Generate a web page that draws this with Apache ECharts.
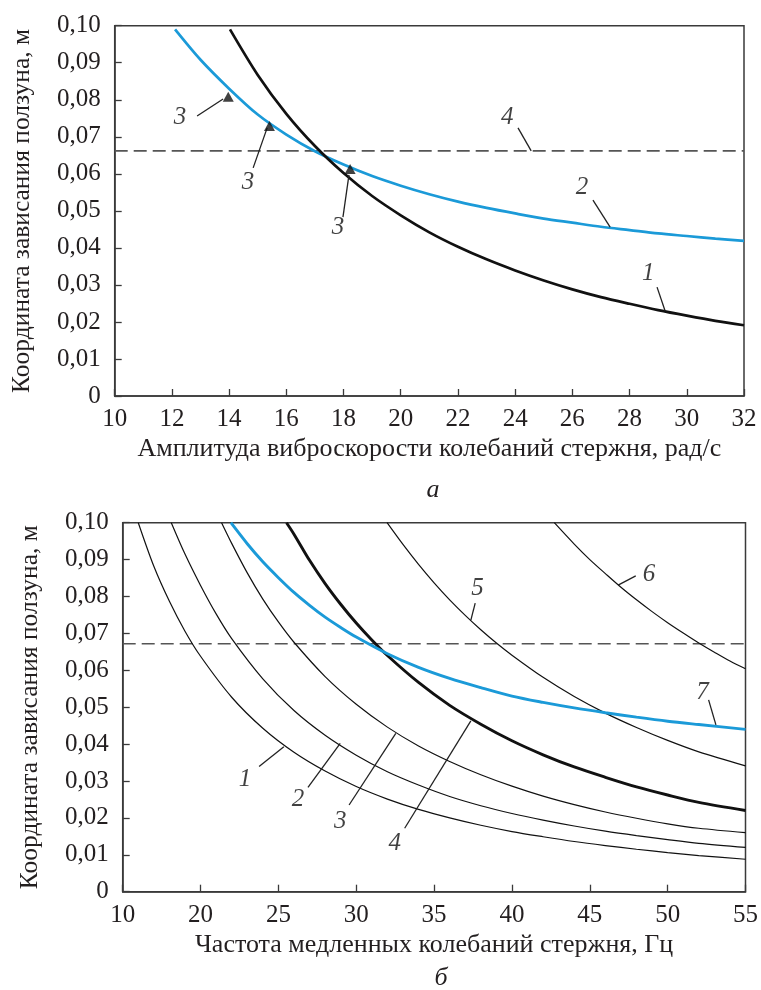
<!DOCTYPE html>
<html>
<head>
<meta charset="utf-8">
<script src="https://cdn.jsdelivr.net/npm/echarts@6/dist/echarts.min.js"></script>
<style>
html,body{margin:0;padding:0;background:#fff;}
#main{width:761px;height:990px;}
</style>
</head>
<body>
<div id="main"></div>
<script>
// ---------- Chart (а) ----------
var aXTicks = [10, 12, 14, 16, 18, 20, 22, 24, 26, 28, 30, 32];
var a1X = [14.03, 15, 16, 17, 18, 19, 20, 21, 22, 23, 24, 25, 26, 27, 28, 29, 30, 31, 32];
var a1Y = [0.0990, 0.0867, 0.0762, 0.0675, 0.0602, 0.0540, 0.0488, 0.0442, 0.0403, 0.0369, 0.0339, 0.0312, 0.0288, 0.0267, 0.0249, 0.0232, 0.0217, 0.0203, 0.0191];
var a2X = [12.11, 13, 14, 15, 16, 17, 18, 19, 20, 21, 22, 23, 24, 25, 26, 27, 28, 29, 30, 31, 32];
var a2Y = [0.0990, 0.0908, 0.0830, 0.0760, 0.0706, 0.0661, 0.0625, 0.0594, 0.0568, 0.0545, 0.0525, 0.0508, 0.0493, 0.0479, 0.0468, 0.0457, 0.0448, 0.0439, 0.0432, 0.0425, 0.0419];
var a3X = [13.97, 15.41, 18.23];
var a3Y = [0.0808, 0.0729, 0.0613];
var a4Level = 0.0662;
var aLabelText = ['3', '3', '3', '4', '2', '1'];
var aLabelX = [12.28, 14.66, 17.81, 23.72, 26.34, 28.65];
var aLabelY = [0.0751, 0.0578, 0.0454, 0.0753, 0.0562, 0.0332];
var aLeadFrom = [[12.88, 0.0756], [14.84, 0.0616], [17.98, 0.0483], [24.10, 0.0724], [26.72, 0.0529], [28.96, 0.0294]];
var aLeadTo = [[13.79, 0.0802], [15.33, 0.0724], [18.19, 0.0597], [24.56, 0.0662], [27.32, 0.0456], [29.24, 0.0230]];

// ---------- Chart (б) ----------
var bXTicks = [15, 20, 25, 30, 35, 40, 45, 50, 55];
var bXTickText = ['10', '20', '25', '30', '35', '40', '45', '50', '55'];
var b1X = [16, 17, 18, 19, 20, 22, 24, 26, 28, 30, 32, 34, 36, 38, 40, 42, 44, 46, 48, 50, 52, 55];
var b1Y = [0.1000, 0.0882, 0.0787, 0.0706, 0.0638, 0.0527, 0.0443, 0.0378, 0.0327, 0.0285, 0.0251, 0.0223, 0.0200, 0.0180, 0.0163, 0.0149, 0.0136, 0.0125, 0.0115, 0.0106, 0.0098, 0.0088];
var b2X = [18.12, 19, 20, 21, 22, 24, 26, 28, 30, 32, 34, 36, 38, 40, 42, 44, 46, 48, 50, 52, 55];
var b2Y = [0.1000, 0.0915, 0.0830, 0.0753, 0.0686, 0.0577, 0.0491, 0.0424, 0.0370, 0.0325, 0.0289, 0.0258, 0.0233, 0.0212, 0.0194, 0.0178, 0.0164, 0.0152, 0.0141, 0.0131, 0.0120];
var b3X = [21.35, 22, 23, 24, 25, 26, 28, 30, 32, 34, 36, 38, 40, 42, 44, 46, 48, 50, 52, 55];
var b3Y = [0.1000, 0.0944, 0.0864, 0.0793, 0.0731, 0.0676, 0.0583, 0.0508, 0.0446, 0.0395, 0.0353, 0.0317, 0.0286, 0.0259, 0.0236, 0.0216, 0.0199, 0.0184, 0.0172, 0.0160];
var b4X = [25.52, 26, 27, 28, 29, 30, 31, 32, 34, 36, 38, 40, 42, 44, 46, 48, 50, 52, 55];
var b4Y = [0.1000, 0.0969, 0.0898, 0.0835, 0.0779, 0.0728, 0.0682, 0.0640, 0.0567, 0.0505, 0.0454, 0.0409, 0.0371, 0.0338, 0.0310, 0.0284, 0.0262, 0.0242, 0.0220];
var b5X = [31.98, 33, 34, 35, 36, 37, 38, 39, 40, 42, 44, 46, 48, 50, 52, 55];
var b5Y = [0.1000, 0.0941, 0.0887, 0.0837, 0.0791, 0.0749, 0.0710, 0.0674, 0.0641, 0.0581, 0.0529, 0.0484, 0.0445, 0.0410, 0.0379, 0.0341];
var b6X = [42.72, 44, 45, 46, 47, 48, 49, 50, 51, 52, 53, 54, 55];
var b6Y = [0.1000, 0.0942, 0.0900, 0.0862, 0.0825, 0.0791, 0.0759, 0.0729, 0.0701, 0.0674, 0.0649, 0.0625, 0.0604];
var b7X = [21.95, 23, 24, 25, 26, 27, 28, 29, 30, 32, 34, 36, 38, 40, 42, 44, 46, 48, 50, 52, 55];
var b7Y = [0.1000, 0.0943, 0.0894, 0.0851, 0.0811, 0.0776, 0.0744, 0.0716, 0.0690, 0.0645, 0.0608, 0.0578, 0.0553, 0.0530, 0.0513, 0.0498, 0.0485, 0.0473, 0.0462, 0.0453, 0.0440];
var bDashLevel = 0.0672;
var bLabelText = ['1', '2', '3', '4', '5', '6', '7'];
var bLabelX = [22.86, 26.26, 28.97, 32.47, 37.79, 48.8, 52.24];
var bLabelY = [0.0305, 0.0249, 0.0190, 0.0131, 0.0822, 0.0860, 0.0540];
var bLeadFrom = [[23.76, 0.0339], [26.9, 0.0283], [29.54, 0.0235], [33.11, 0.0172], [37.64, 0.0782], [47.95, 0.0856], [52.63, 0.0520]];
var bLeadTo = [[25.35, 0.0393], [28.97, 0.0402], [32.54, 0.0429], [37.36, 0.0463], [37.36, 0.0736], [46.82, 0.0831], [53.1, 0.0452]];

var FONT = 'Liberation Serif';
var TXT = '#231f20';
var BLUE = '#1b9ad8';
var AX = '#3a3a3a';

function zip(xs, ys) { return xs.map(function (x, i) { return [x, ys[i]]; }); }
function yFmt(v) {
  var r = Math.round(v * 100) / 100;
  return r === 0 ? '0' : r.toFixed(2).replace('.', ',');
}

function makeX(gi, min, max, interval, fmt, name, nameGap) {
  return {
    type: 'value', gridIndex: gi, min: min, max: max, interval: interval,
    axisLine: { show: true, lineStyle: { color: AX, width: 1.5 } },
    axisTick: { show: true, inside: true, length: 7, lineStyle: { color: AX, width: 1.3 } },
    splitLine: { show: false },
    axisLabel: { color: TXT, fontFamily: FONT, fontSize: 25, margin: 11, formatter: fmt },
    name: name, nameLocation: 'middle', nameGap: nameGap,
    nameTextStyle: { color: TXT, fontFamily: FONT, fontSize: 26 }
  };
}
function makeY(gi, nameGap) {
  return {
    type: 'value', gridIndex: gi, min: 0, max: 0.1, interval: 0.01,
    axisLine: { show: true, lineStyle: { color: AX, width: 1.5 } },
    axisTick: { show: true, inside: true, length: 7, lineStyle: { color: AX, width: 1.3 } },
    splitLine: { show: false },
    axisLabel: { color: TXT, fontFamily: FONT, fontSize: 25, margin: 14, formatter: yFmt },
    name: 'Координата зависания ползуна, м', nameLocation: 'middle', nameGap: nameGap,
    nameTextStyle: { color: TXT, fontFamily: FONT, fontSize: 25.5 }
  };
}

function lineSeries(gi, xs, ys, color, width, z) {
  return {
    type: 'line', xAxisIndex: gi, yAxisIndex: gi, data: zip(xs, ys),
    smooth: 0.3, showSymbol: false, symbol: 'none', silent: true, z: z || 3,
    lineStyle: { color: color, width: width }
  };
}
function dashSeries(gi, xmin, xmax, level) {
  return {
    type: 'line', xAxisIndex: gi, yAxisIndex: gi, data: [[xmin, level], [xmax, level]],
    showSymbol: false, symbol: 'none', silent: true, z: 2,
    lineStyle: { color: '#555', width: 1.6, type: [13, 6] }
  };
}
function annotSeries(gi, texts, xs, ys, from, to) {
  return {
    type: 'scatter', xAxisIndex: gi, yAxisIndex: gi, symbolSize: 0, silent: true, z: 5,
    data: xs.map(function (x, i) { return { value: [x, ys[i]], name: texts[i] }; }),
    label: {
      show: true, position: 'inside', formatter: '{b}', color: '#111',
      fontFamily: FONT, fontStyle: 'italic', fontSize: 25, align: 'center', verticalAlign: 'middle'
    },
    markLine: {
      silent: true, symbol: ['none', 'none'], label: { show: false },
      lineStyle: { color: '#222', width: 1.3, type: 'solid' },
      data: from.map(function (f, i) { return [{ coord: f }, { coord: to[i] }]; })
    }
  };
}

var chart = echarts.init(document.getElementById('main'), null, { renderer: 'canvas' });
chart.setOption({
  backgroundColor: '#fff',
  animation: false,
  title: [
    { text: 'а', left: 428, top: 472, textAlign: 'center',
      textStyle: { fontFamily: FONT, fontStyle: 'italic', fontWeight: 'normal', fontSize: 26, color: TXT } },
    { text: 'б', left: 436, top: 960, textAlign: 'center',
      textStyle: { fontFamily: FONT, fontStyle: 'italic', fontWeight: 'normal', fontSize: 26, color: TXT } }
  ],
  grid: [
    { left: 114.7, top: 25.7, width: 629.3, height: 370.3, show: true, borderColor: AX, borderWidth: 1.5, containLabel: false },
    { left: 122.7, top: 522.7, width: 627.3, height: 369, show: true, borderColor: AX, borderWidth: 1.5, containLabel: false }
  ],
  xAxis: [
    makeX(0, 10, 32, 2, function (v) { return String(v); }, 'Амплитуда виброскорости колебаний стержня, рад/с', 40),
    makeX(1, 15, 55, 5, function (v) { var i = bXTicks.indexOf(v); return i >= 0 ? bXTickText[i] : String(v); }, 'Частота медленных колебаний стержня, Гц', 40)
  ],
  yAxis: [makeY(0, 79), makeY(1, 79)],
  series: [
    dashSeries(0, 10, 32, a4Level),
    lineSeries(0, a1X, a1Y, '#111', 2.7, 4),
    lineSeries(0, a2X, a2Y, BLUE, 2.7, 3),
    {
      type: 'scatter', xAxisIndex: 0, yAxisIndex: 0, data: zip(a3X, a3Y),
      symbol: 'triangle', symbolSize: [11, 10], itemStyle: { color: '#111' }, z: 6, silent: true
    },
    annotSeries(0, aLabelText, aLabelX, aLabelY, aLeadFrom, aLeadTo),

    dashSeries(1, 15, 55, bDashLevel),
    lineSeries(1, b1X, b1Y, '#111', 1.2),
    lineSeries(1, b2X, b2Y, '#111', 1.2),
    lineSeries(1, b3X, b3Y, '#111', 1.2),
    lineSeries(1, b4X, b4Y, '#111', 2.9, 4),
    lineSeries(1, b5X, b5Y, '#111', 1.2),
    lineSeries(1, b6X, b6Y, '#111', 1.2),
    lineSeries(1, b7X, b7Y, BLUE, 2.9, 4),
    annotSeries(1, bLabelText, bLabelX, bLabelY, bLeadFrom, bLeadTo)
  ]
});
</script>
</body>
</html>
